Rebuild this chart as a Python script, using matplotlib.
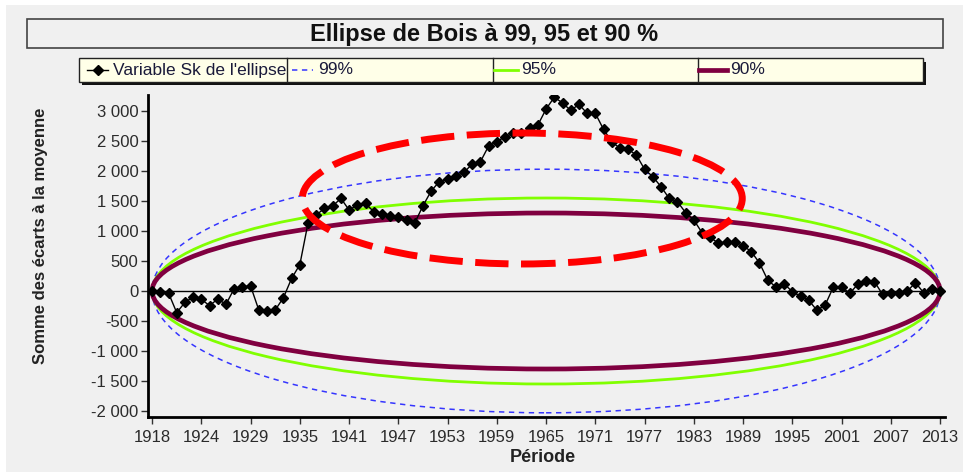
import numpy as np
import matplotlib.pyplot as plt
from matplotlib.patches import Ellipse, Rectangle
from matplotlib.lines import Line2D

plt.rcParams['font.family'] = ['Liberation Sans', 'DejaVu Sans']

# Variable Sk (somme cumulée des écarts à la moyenne), 97 valeurs
sk = [0, -11, -33, -361, -189, -100, -139, -244, -133, -222,
      39, 72, 83, -317, -328, -317, -111, 211, 440, 1135,
      1267, 1378, 1417, 1544, 1350, 1433, 1461, 1320, 1290, 1255,
      1230, 1190, 1135, 1420, 1667, 1825, 1867, 1922, 1978, 2117,
      2155, 2417, 2489, 2572, 2628, 2628, 2711, 2767, 3033, 3230,
      3135, 3010, 3111, 2961, 2961, 2694, 2489, 2378, 2361, 2267,
      2028, 1906, 1739, 1544, 1489, 1306, 1183, 972, 894, 794,
      822, 822, 756, 656, 467, 183, 66, 120, -11, -90,
      -155, -322, -233, 66, 66, -39, 117, 165, 156, -58,
      -33, -33, -3, 139, -28, 36, 0]

annees = [1918, 1924, 1929, 1935, 1941, 1947, 1953, 1959, 1965,
          1971, 1977, 1983, 1989, 1995, 2001, 2007, 2013]

# demi-hauteur de chaque ellipse de Bois au milieu de la période
niveaux = ['99%', '95%', '90%']
demi_hauteur = [2030, 1550, 1300]

W, H = 963, 472
fig = plt.figure(figsize=(W / 100, H / 100), dpi=100)
fig.patch.set_facecolor('white')
fig.add_artist(Rectangle((6 / W, 0), 1, 1 - 5 / H, transform=fig.transFigure,
                         facecolor='#f0f0f0', edgecolor='none', zorder=-10))


def px(x, y):
    # pixels (haut-gauche) -> fraction de figure
    return x / W, 1 - y / H


ax = fig.add_axes([148 / W, 55 / H, 797 / W, 322 / H])
ax.set_facecolor('#f0f0f0')

x = np.arange(len(sk))
n = len(sk) - 1

styles = [dict(color='#3535ff', lw=1.1, ls=(0, (3.5, 3))),
          dict(color='#80ff00', lw=2),
          dict(color='#800040', lw=3.4)]
for h, st in zip(demi_hauteur, styles):
    ax.add_patch(Ellipse((n / 2, 0), n, 2 * h, fill=False, edgecolor=st['color'],
                         lw=st['lw'], ls=st.get('ls', '-'), zorder=3))

ax.axhline(0, color='black', lw=1, zorder=2)
ax.plot(x, sk, color='black', lw=1, marker='D', ms=5.3, zorder=4)

# ellipse rouge de mise en évidence
ax.add_patch(Ellipse((45.1, 1542), 53.6, 2183, fill=False, edgecolor='#ff0000',
                     lw=5, ls=(0, (4.8, 1.8)), zorder=6))

ax.set_xlim(-0.5, 96.6)
ax.set_ylim(-2100, 3267)
ax.set_xticks(np.arange(0, n + 1, 6))
ax.set_xticklabels([str(a) for a in annees])
yt = np.arange(-2000, 3001, 500)
ax.set_yticks(yt)
ax.set_yticklabels([f"{v:,}".replace(',', ' ') for v in yt])
ax.tick_params(direction='out', length=5, width=1, labelsize=12,
               labelcolor='#2b2b2b', color='#333333')
ax.tick_params(axis='y', pad=2)
ax.tick_params(axis='x', pad=4)
for s in ['top', 'right']:
    ax.spines[s].set_visible(False)
for s in ['left', 'bottom']:
    ax.spines[s].set_linewidth(2)

fig.text(*px(40, 236), 'Somme des écarts à la moyenne', rotation=90,
         ha='center', va='center', fontsize=12, fontweight='bold', color='#222222')
fig.text(*px(543, 458), 'Période', ha='center', va='center',
         fontsize=13, fontweight='bold', color='#222222')

# boîte du titre
fig.add_artist(Rectangle(px(27, 48.3), 916 / W, 29 / H, transform=fig.transFigure,
                         facecolor='#f0f0f0', edgecolor='#444444', lw=1.2))
fig.text(*px(484, 34), 'Ellipse de Bois à 99, 95 et 90 %', ha='center', va='center',
         fontsize=17, fontweight='bold', color='#111111')

# légende
fig.add_artist(Rectangle(px(82, 85), 844 / W, 23.4 / H, transform=fig.transFigure,
                         facecolor='#111111', edgecolor='none'))
fig.add_artist(Rectangle(px(79, 81.7), 844 / W, 23.4 / H, transform=fig.transFigure,
                         facecolor='#ffffe8', edgecolor='#222222', lw=1))
for sx in [287, 493, 698]:
    fig.add_artist(Line2D([sx / W, sx / W], [1 - 58.3 / H, 1 - 81.7 / H],
                          transform=fig.transFigure, color='#222222', lw=1))

ly = 1 - 70 / H
fig.add_artist(Line2D([87 / W, 108 / W], [ly, ly], transform=fig.transFigure,
                      color='black', lw=1))
fig.add_artist(Line2D([98 / W], [ly], transform=fig.transFigure,
                      color='black', marker='D', ms=5, lw=0))
fig.text(113 / W, ly, "Variable Sk de l'ellipse", ha='left', va='center',
         fontsize=12.5, color='#1a1a3a')
for (x0, x1, xt), lab, st in zip([(292, 313, 318), (494, 518, 521), (699, 727, 730)],
                                 niveaux, styles):
    fig.add_artist(Line2D([x0 / W, x1 / W], [ly, ly], transform=fig.transFigure,
                          color=st['color'], lw=st['lw'] if st['lw'] > 1.5 else 1.1,
                          ls=st.get('ls', '-')))
    fig.text(xt / W, ly, lab, ha='left', va='center', fontsize=12.5, color='#1a1a3a')

fig.savefig('out.png', dpi=100, facecolor=fig.get_facecolor())
